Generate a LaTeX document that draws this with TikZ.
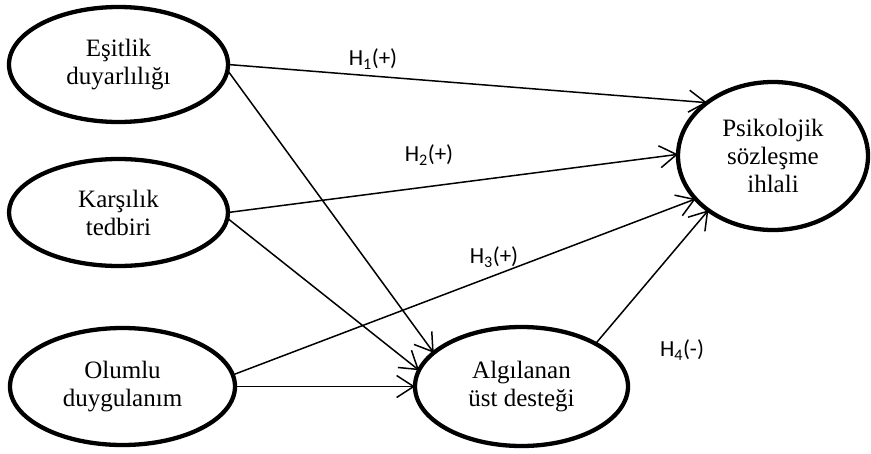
\documentclass[tikz,border=0pt]{standalone}
\usepackage{fontspec}
\setmainfont{Liberation Serif}
\newfontfamily\hfont{Carlito}
\usetikzlibrary{arrows.meta,shapes.geometric}
\begin{document}
\begin{tikzpicture}[x=1pt,y=-1pt,
  construct/.style={draw, ellipse, line width=4.3pt, inner sep=0pt, outer sep=0pt,
    align=center, font=\fontsize{25}{28}\selectfont},
  link/.style={line width=1.5pt, -{Straight Barb[length=17pt,width=22pt]}},
  hyp/.style={font=\hfont\fontsize{23}{26}\selectfont, inner sep=0pt}]
\useasboundingbox (0,0) rectangle (871,453);
\node[construct, minimum width=219pt, minimum height=115pt] (e) at (118.5,64.5) {Eşitlik\\duyarlılığı};
\node[construct, minimum width=219pt, minimum height=107pt] (k) at (118.5,212.5) {Karşılık\\tedbiri};
\node[construct, minimum width=225pt, minimum height=117pt] (o) at (122.5,386.5) {Olumlu\\duygulanım};
\node[construct, minimum width=213pt, minimum height=119pt] (a) at (521.5,386.5) {Algılanan\\üst desteği};
\node[construct, minimum width=190pt, minimum height=148pt] (p) at (773,156) {Psikolojik\\sözleşme\\ihlali};
\draw[link] (e.east) -- (p.141.5);
\draw[link] (e.-3) -- (a.159.3);
\draw[link] (k.east) -- (p.179.4);
\draw[link] (k.-3) -- (a.171.2);
\draw[link] (o.6) -- (p.209.2);
\draw[link] (o.east) -- (a.west);
\draw[link] (a.30.2) -- (p.220.3);
\node[hyp] (h1) at (373,59) {H\textsubscript{1}(+)};
\node[hyp] (h2) at (429,155) {H\textsubscript{2}(+)};
\node[hyp] (h3) at (494,257) {H\textsubscript{3}(+)};
\node[hyp] (h4) at (682,350) {H\textsubscript{4}(-)};
\end{tikzpicture}
\end{document}
